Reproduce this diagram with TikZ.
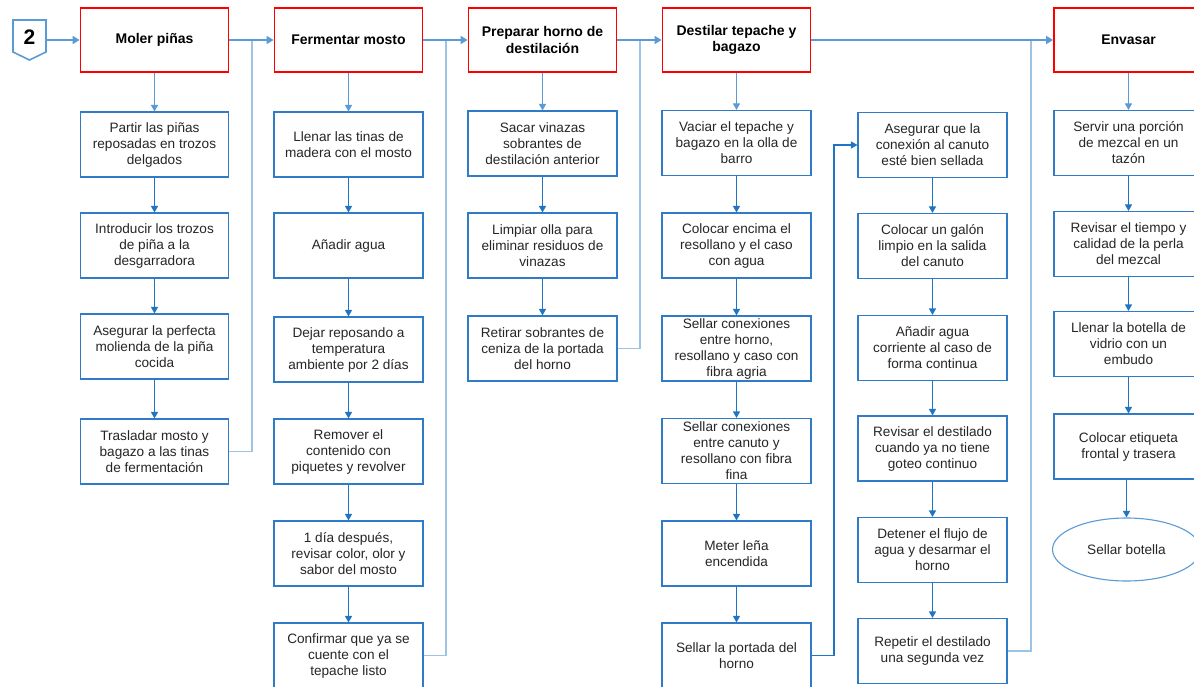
\documentclass[tikz,border=0pt]{standalone}
\usepackage{fontspec}
\setmainfont{Liberation Sans}
\usetikzlibrary{arrows.meta,shapes.geometric}
\definecolor{hdred}{HTML}{FF0000}
\definecolor{boxblue}{HTML}{2F7BC8}
\definecolor{arrblue}{HTML}{1F74C4}
\definecolor{midblue}{HTML}{5B9BD5}
\definecolor{fbblue}{HTML}{9DC3E6}
\definecolor{txt}{HTML}{262626}
\tikzset{
  x=1pt, y=-1pt,
  header/.style={draw=hdred, line width=1.8pt, fill=white, minimum width=148pt, minimum height=64pt, inner sep=0pt, align=center, text=black, font=\fontsize{14}{16.5}\selectfont\bfseries},
  stepbox/.style={draw=boxblue, line width=1.1pt, fill=white, minimum width=149pt, minimum height=65pt, inner sep=0pt, align=center, text=txt, font=\fontsize{13.6}{16}\selectfont},
  endbox/.style={ellipse, draw=midblue, line width=1.1pt, fill=white, minimum width=148pt, minimum height=63pt, inner sep=0pt, align=center, text=txt, font=\fontsize{13.6}{16}\selectfont},
  sarrow/.style={draw=arrblue, line width=1.1pt, -{Triangle[width=7pt,length=6.5pt]}},
  harrow/.style={draw=midblue, line width=1pt, -{Triangle[width=7pt,length=6.5pt]}},
  topline/.style={draw=midblue, line width=1.6pt, -{Triangle[width=8pt,length=7pt]}},
  fbline/.style={draw=fbblue, line width=1.8pt},
}
\begin{document}
\begin{tikzpicture}
\useasboundingbox (0,0) rectangle (1194,687);
\clip (0,0) rectangle (1194,687);
\fill[white] (0,0) rectangle (1194,687);

% start marker
\draw[midblue, line width=1.6pt] (13,20) -- (46,20) -- (46,52) -- (29.5,60) -- (13,52) -- cycle;
\node[font=\fontsize{21}{21}\selectfont\bfseries, text=black] (two) at (29.5,37) {2};
\coordinate (p2) at (46,40);

% headers
\node[header] (h1) at (154.5,40) {Moler piñas};
\node[header] (h2) at (348.5,40) {Fermentar mosto};
\node[header] (h3) at (542.5,40) {Preparar horno de\\destilación};
\node[header] (h4) at (736.5,40) {Destilar tepache y\\bagazo};
\node[header, minimum width=149pt] (h5) at (1128.5,40) {Envasar};

% column 1
\node[stepbox, minimum width=148pt] (a1) at (154.5,144.5) {Partir las piñas\\reposadas en trozos\\delgados};
\node[stepbox, minimum width=148pt] (a2) at (154.5,245.5) {Introducir los trozos\\de piña a la\\desgarradora};
\node[stepbox, minimum width=148pt] (a3) at (154.5,346.5) {Asegurar la perfecta\\molienda de la piña\\cocida};
\node[stepbox, minimum width=148pt] (a4) at (154.5,451.5) {Trasladar mosto y\\bagazo a las tinas\\de fermentación};

% column 2
\node[stepbox] (b1) at (348.5,144.5) {Llenar las tinas de\\madera con el mosto};
\node[stepbox] (b2) at (348.5,245.5) {Añadir agua};
\node[stepbox] (b3) at (348.5,349.5) {Dejar reposando a\\temperatura\\ambiente por 2 días};
\node[stepbox] (b4) at (348.5,451.5) {Remover el\\contenido con\\piquetes y revolver};
\node[stepbox] (b5) at (348.5,553.5) {1 día después,\\revisar color, olor y\\sabor del mosto};
\node[stepbox] (b6) at (348.5,655.5) {Confirmar que ya se\\cuente con el\\tepache listo};

% column 3
\node[stepbox] (c1) at (542.5,143.5) {Sacar vinazas\\sobrantes de\\destilación anterior};
\node[stepbox] (c2) at (542.5,245.5) {Limpiar olla para\\eliminar residuos de\\vinazas};
\node[stepbox] (c3) at (542.5,348.5) {Retirar sobrantes de\\ceniza de la portada\\del horno};

% column 4
\node[stepbox] (d1) at (736.5,143) {Vaciar el tepache y\\bagazo en la olla de\\barro};
\node[stepbox] (d2) at (736.5,245.5) {Colocar encima el\\resollano y el caso\\con agua};
\node[stepbox] (d3) at (736.5,348.5) {Sellar conexiones\\entre horno,\\resollano y caso con\\fibra agria};
\node[stepbox] (d4) at (736.5,451) {Sellar conexiones\\entre canuto y\\resollano con fibra\\fina};
\node[stepbox] (d5) at (736.5,553.5) {Meter leña\\encendida};
\node[stepbox] (d6) at (736.5,655.5) {Sellar la portada del\\horno};

% column 5
\node[stepbox] (e1) at (932.5,145) {Asegurar que la\\conexión al canuto\\esté bien sellada};
\node[stepbox] (e2) at (932.5,246) {Colocar un galón\\limpio en la salida\\del canuto};
\node[stepbox] (e3) at (932.5,348) {Añadir agua\\corriente al caso de\\forma continua};
\node[stepbox] (e4) at (932.5,448.5) {Revisar el destilado\\cuando ya no tiene\\goteo continuo};
\node[stepbox] (e5) at (932.5,550) {Detener el flujo de\\agua y desarmar el\\horno};
\node[stepbox] (e6) at (932.5,651) {Repetir el destilado\\una segunda vez};

% column 6
\node[stepbox] (f1) at (1128.5,143) {Servir una porción\\de mezcal en un\\tazón};
\node[stepbox] (f2) at (1128.5,244) {Revisar el tiempo y\\calidad de la perla\\del mezcal};
\node[stepbox] (f3) at (1128.5,344) {Llenar la botella de\\vidrio con un\\embudo};
\node[stepbox] (f4) at (1128.5,446.5) {Colocar etiqueta\\frontal y trasera};
\node[endbox] (f5) at (1126.5,549.5) {Sellar botella};

% junction coordinates
\coordinate (j1) at (252,40);
\coordinate (j2) at (446,40);
\coordinate (j3) at (640,40);
\coordinate (j4) at (1031,41);
\coordinate (k) at (834,655.5);

% feedback lines
\draw[fbline] (a4.east) -| (j1);
\draw[fbline] (b6.east) -| (j2);
\draw[fbline] (c3.east) -| (j3);
\draw[fbline] (e6.east) -| (j4);

% top flow
\draw[topline] (p2) -- (h1.west);
\draw[topline] (h1.east) -- (h2.west);
\draw[topline] (h2.east) -- (h3.west);
\draw[topline] (h3.east) -- (h4.west);
\draw[topline] (h4.east) -- (h5.west);

% header to first box
\draw[harrow] (h1.south) -- (a1.north);
\draw[harrow] (h2.south) -- (b1.north);
\draw[harrow] (h3.south) -- (c1.north);
\draw[harrow] (h4.south) -- (d1.north);
\draw[harrow] (h5.south) -- (f1.north);

% step arrows
\draw[sarrow] (a1.south) -- (a2.north);
\draw[sarrow] (a2.south) -- (a3.north);
\draw[sarrow] (a3.south) -- (a4.north);
\draw[sarrow] (b1.south) -- (b2.north);
\draw[sarrow] (b2.south) -- (b3.north);
\draw[sarrow] (b3.south) -- (b4.north);
\draw[sarrow] (b4.south) -- (b5.north);
\draw[sarrow] (b5.south) -- (b6.north);
\draw[sarrow] (c1.south) -- (c2.north);
\draw[sarrow] (c2.south) -- (c3.north);
\draw[sarrow] (d1.south) -- (d2.north);
\draw[sarrow] (d2.south) -- (d3.north);
\draw[sarrow] (d3.south) -- (d4.north);
\draw[sarrow] (d4.south) -- (d5.north);
\draw[sarrow] (d5.south) -- (d6.north);
\draw[sarrow] (d6.east) -- (k) |- (e1.west);
\draw[sarrow] (e1.south) -- (e2.north);
\draw[sarrow] (e2.south) -- (e3.north);
\draw[sarrow] (e3.south) -- (e4.north);
\draw[sarrow] (e4.south) -- (e5.north);
\draw[sarrow] (e5.south) -- (e6.north);
\draw[sarrow] (f1.south) -- (f2.north);
\draw[sarrow] (f2.south) -- (f3.north);
\draw[sarrow] (f3.south) -- (f4.north);
\draw[sarrow] (f4.south -| f5.north) -- (f5.north);
\end{tikzpicture}
\end{document}
